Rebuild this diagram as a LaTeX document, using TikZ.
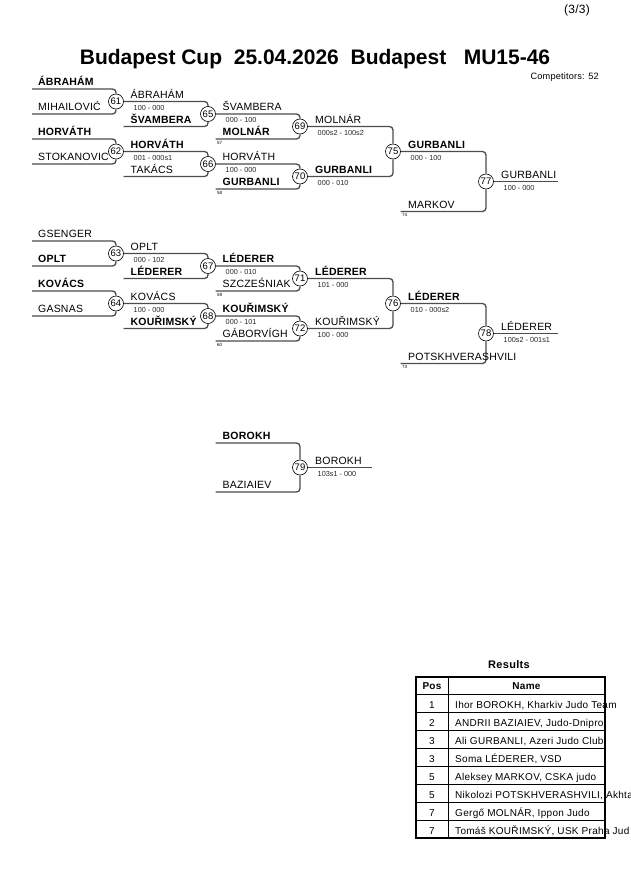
\documentclass[tikz,border=0pt]{standalone}
\usepackage{fontspec}
\setmainfont{Liberation Sans}
\newfontfamily\wide{Liberation Sans}[LetterSpace=2]
\newfontfamily\widetab{Liberation Sans}[LetterSpace=3]

\begin{document}
\begin{tikzpicture}
            [
                x=1pt, y=-1pt,
                match/.style={
                    circle, draw, fill=white, line width=0.6pt,
                    inner sep=0pt, minimum size=15pt,
                    font=\fontsize{9.5}{10}\selectfont
                },
                bline/.style={draw=black!70, line width=1.3pt, rounded corners=3.5pt},
                who/.style={anchor=base west, inner sep=0pt,
                    font=\wide\fontsize{10.5}{12}\selectfont},
                won/.style={who, font=\wide\fontsize{10.5}{12}\selectfont\bfseries},
                score/.style={anchor=base west, inner sep=0pt,
                    font=\fontsize{7.3}{8}\selectfont, text=black!85},
                seed/.style={anchor=base west, inner sep=0pt,
                    font=\fontsize{4.5}{5}\selectfont},
                cell/.style={inner sep=0pt, font=\widetab\fontsize{10}{11}\selectfont}
            ]
            \useasboundingbox (0,0) rectangle (630,891);

            \node[anchor=base, inner sep=0pt, font=\wide\fontsize{12}{14}\selectfont] (page) at (577,13.5) {(3/3)};
            \node[anchor=base, inner sep=0pt, font=\bfseries\fontsize{21}{24}\selectfont] (title) at (315,65)
                {Budapest Cup\ \ 25.04.2026\ \ Budapest\ \ \ MU15-46};
            \node[anchor=base east, inner sep=0pt, font=\wide\fontsize{9.2}{10}\selectfont] (count) at (599,80) {Competitors: 52};

            % circles
            \node[match] (m61) at (116,101.5) {61};
            \node[match] (m62) at (116,151.5) {62};
            \node[match] (m63) at (116,253.5) {63};
            \node[match] (m64) at (116,303.5) {64};
            \node[match] (m65) at (208,114) {65};
            \node[match] (m66) at (208,164) {66};
            \node[match] (m67) at (208,266) {67};
            \node[match] (m68) at (208,316) {68};
            \node[match] (m69) at (300,126.5) {69};
            \node[match] (m70) at (300,176.5) {70};
            \node[match] (m71) at (300,278.5) {71};
            \node[match] (m72) at (300,328.5) {72};
            \node[match] (m75) at (393,151.5) {75};
            \node[match] (m76) at (393,303.5) {76};
            \node[match] (m77) at (486,181.5) {77};
            \node[match] (m78) at (486,333.5) {78};
            \node[match] (m79) at (300,467.5) {79};

            \coordinate (e61a) at (32,89);
            \coordinate (e61b) at (32,114);
            \coordinate (e62a) at (32,139);
            \coordinate (e62b) at (32,164);
            \coordinate (e63a) at (32,241);
            \coordinate (e63b) at (32,266);
            \coordinate (e64a) at (32,291);
            \coordinate (e64b) at (32,316);
            \coordinate (b65) at (123.5,126.5);
            \coordinate (b66) at (123.5,176.5);
            \coordinate (b67) at (123.5,278.5);
            \coordinate (b68) at (123.5,328.5);
            \coordinate (b69) at (215.5,139);
            \coordinate (b70) at (215.5,189);
            \coordinate (b71) at (215.5,291);
            \coordinate (b72) at (215.5,341);
            \coordinate (b77) at (400.5,211.5);
            \coordinate (b78) at (400.5,363.5);
            \coordinate (e79a) at (215.5,443);
            \coordinate (e79b) at (215.5,492);
            \coordinate (f77) at (558,181.5);
            \coordinate (f78) at (558,333.5);
            \coordinate (f79) at (372,467.5);

            \draw[bline] (e61a) -| (m61);
            \draw[bline] (e61b) -| (m61);
            \draw[bline] (e62a) -| (m62);
            \draw[bline] (e62b) -| (m62);
            \draw[bline] (e63a) -| (m63);
            \draw[bline] (e63b) -| (m63);
            \draw[bline] (e64a) -| (m64);
            \draw[bline] (e64b) -| (m64);
            \draw[bline] (m61) -| (m65);
            \draw[bline] (b65) -| (m65);
            \draw[bline] (m62) -| (m66);
            \draw[bline] (b66) -| (m66);
            \draw[bline] (m63) -| (m67);
            \draw[bline] (b67) -| (m67);
            \draw[bline] (m64) -| (m68);
            \draw[bline] (b68) -| (m68);
            \draw[bline] (m65) -| (m69);
            \draw[bline] (b69) -| (m69);
            \draw[bline] (m66) -| (m70);
            \draw[bline] (b70) -| (m70);
            \draw[bline] (m67) -| (m71);
            \draw[bline] (b71) -| (m71);
            \draw[bline] (m68) -| (m72);
            \draw[bline] (b72) -| (m72);
            \draw[bline] (m69) -| (m75);
            \draw[bline] (m70) -| (m75);
            \draw[bline] (m71) -| (m76);
            \draw[bline] (m72) -| (m76);
            \draw[bline] (m75) -| (m77);
            \draw[bline] (b77) -| (m77);
            \draw[bline] (m76) -| (m78);
            \draw[bline] (b78) -| (m78);
            \draw[bline] (m77) -- (f77);
            \draw[bline] (m78) -- (f78);
            \draw[bline] (e79a) -| (m79);
            \draw[bline] (e79b) -| (m79);
            \draw[bline] (m79) -- (f79);

            % round 1
            \node[won] (t61a) at (38,85.5) {ÁBRAHÁM};
            \node[who] (t61b) at (38,110.5) {MIHAILOVIĆ};
            \node[won] (t62a) at (38,135.5) {HORVÁTH};
            \node[who] (t62b) at (38,160.5) {STOKANOVIC};
            \node[who] (t63a) at (38,237.5) {GSENGER};
            \node[won] (t63b) at (38,262.5) {OPLT};
            \node[won] (t64a) at (38,287.5) {KOVÁCS};
            \node[who] (t64b) at (38,312.5) {GASNAS};

            % round 2
            \node[who] (t65a) at (130.5,98) {ÁBRAHÁM};
            \node[score] (s61) at (133.5,110) {100 - 000};
            \node[won] (t65b) at (130.5,123) {ŠVAMBERA};
            \node[won] (t66a) at (130.5,148) {HORVÁTH};
            \node[score] (s62) at (133.5,160) {001 - 000s1};
            \node[who] (t66b) at (130.5,173) {TAKÁCS};
            \node[who] (t67a) at (130.5,250) {OPLT};
            \node[score] (s63) at (133.5,262) {000 - 102};
            \node[won] (t67b) at (130.5,275) {LÉDERER};
            \node[who] (t68a) at (130.5,300) {KOVÁCS};
            \node[score] (s64) at (133.5,312) {100 - 000};
            \node[won] (t68b) at (130.5,325) {KOUŘIMSKÝ};

            % round 3
            \node[who] (t69a) at (222.5,110.5) {ŠVAMBERA};
            \node[score] (s65) at (225.5,122.5) {000 - 100};
            \node[won] (t69b) at (222.5,135.5) {MOLNÁR};
            \node[seed] (d69) at (217,144) {57};
            \node[who] (t70a) at (222.5,160.5) {HORVÁTH};
            \node[score] (s66) at (225.5,172.5) {100 - 000};
            \node[won] (t70b) at (222.5,185.5) {GURBANLI};
            \node[seed] (d70) at (217,194) {58};
            \node[won] (t71a) at (222.5,262.5) {LÉDERER};
            \node[score] (s67) at (225.5,274.5) {000 - 010};
            \node[who] (t71b) at (222.5,287.5) {SZCZEŚNIAK};
            \node[seed] (d71) at (217,296) {59};
            \node[won] (t72a) at (222.5,312.5) {KOUŘIMSKÝ};
            \node[score] (s68) at (225.5,324.5) {000 - 101};
            \node[who] (t72b) at (222.5,337.5) {GÁBORVÍGH};
            \node[seed] (d72) at (217,346) {60};

            % round 4
            \node[who] (t75a) at (315,123) {MOLNÁR};
            \node[score] (s69) at (317.5,135) {000s2 - 100s2};
            \node[won] (t75b) at (315,173) {GURBANLI};
            \node[score] (s70) at (317.5,185) {000 - 010};
            \node[won] (t76a) at (315,275) {LÉDERER};
            \node[score] (s71) at (317.5,287) {101 - 000};
            \node[who] (t76b) at (315,325) {KOUŘIMSKÝ};
            \node[score] (s72) at (317.5,337) {100 - 000};

            % round 5
            \node[won] (t77a) at (408,148) {GURBANLI};
            \node[score] (s75) at (410.5,160) {000 - 100};
            \node[who] (t77b) at (408,208) {MARKOV};
            \node[seed] (d77) at (402,216.5) {74};
            \node[won] (t78a) at (408,300) {LÉDERER};
            \node[score] (s76) at (410.5,312) {010 - 000s2};
            \node[who] (t78b) at (408,360) {POTSKHVERASHVILI};
            \node[seed] (d78) at (402,368.5) {73};

            % winners
            \node[who] (t77) at (501,178) {GURBANLI};
            \node[score] (s77) at (503.5,190) {100 - 000};
            \node[who] (t78) at (501,330) {LÉDERER};
            \node[score] (s78) at (503.5,342) {100s2 - 001s1};

            \node[won] (t79a) at (222.5,439.5) {BOROKH};
            \node[who] (t79b) at (222.5,488.5) {BAZIAIEV};
            \node[who] (t79) at (315,464) {BOROKH};
            \node[score] (s79) at (317.5,476.5) {103s1 - 000};

            % results
            \node[cell, anchor=base, font=\widetab\bfseries\fontsize{11}{12}\selectfont] (res) at (509,668) {Results};
            \node[cell, anchor=base, font=\widetab\bfseries\fontsize{10}{11}\selectfont] (hpos) at (432,689) {Pos};
            \node[cell, anchor=base, font=\widetab\bfseries\fontsize{10}{11}\selectfont] (hname) at (526.5,689) {Name};
            \foreach \p/\who [count=\i] in {
                1/{Ihor BOROKH, Kharkiv Judo Team},
                2/{ANDRII BAZIAIEV, Judo-Dnipro},
                3/{Ali GURBANLI, Azeri Judo Club},
                3/{Soma LÉDERER, VSD},
                5/{Aleksey MARKOV, CSKA judo},
                5/{Nikolozi POTSKHVERASHVILI, Akhta},
                7/{Gergő MOLNÁR, Ippon Judo},
                7/{Tomáš KOUŘIMSKÝ, USK Praha Jud}}
            {
                \node[cell, anchor=base] (pos\i) at (432,690+18*\i) {\p};
                \node[cell, anchor=base west] (name\i) at (455,690+18*\i) {\who};
            }
            \foreach \i in {0,...,7}
                \draw[line width=0.7pt] (416,694+18*\i) -- (605,694+18*\i);
            \draw[line width=0.7pt] (448,677) -- (448,838);
            \draw[line width=1.6pt] (416,677) rectangle (605,838);
\end{tikzpicture}
\end{document}
